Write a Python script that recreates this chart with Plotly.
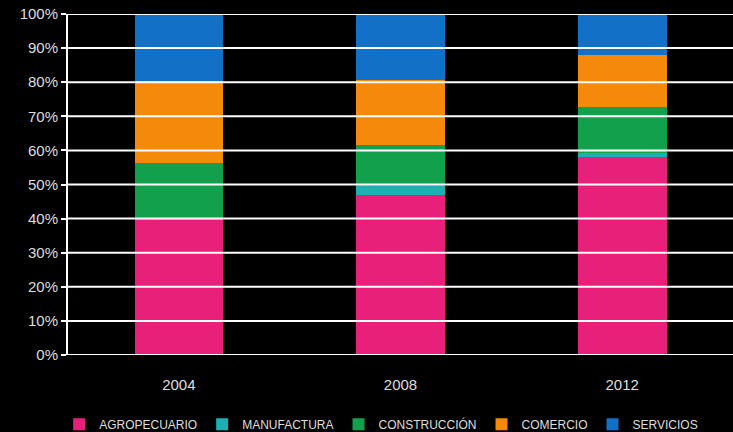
import plotly.graph_objects as go

years = ["2004", "2008", "2012"]
agropecuario = [39.5, 47.0, 58.0]
manufactura = [0.8, 2.7, 1.2]
construccion = [16.0, 12.0, 13.6]
comercio = [24.0, 19.0, 15.2]
servicios = [19.7, 19.3, 12.0]

series = [
    ("AGROPECUARIO", agropecuario, "#e8207a"),
    ("MANUFACTURA", manufactura, "#1cb0b4"),
    ("CONSTRUCCIÓN", construccion, "#12a04c"),
    ("COMERCIO", comercio, "#f5890c"),
    ("SERVICIOS", servicios, "#1270c6"),
]
y_ticks = [0, 10, 20, 30, 40, 50, 60, 70, 80, 90, 100]

fig = go.Figure()
for name, vals, col in series:
    fig.add_trace(go.Bar(x=years, y=vals, name=name, marker=dict(color=col, line=dict(width=0))))

for t in y_ticks:
    fig.add_shape(type="line", xref="paper", yref="y", x0=0, x1=1, y0=t, y1=t,
                  line=dict(color="white", width=2), layer="above")

fig.update_layout(
    width=733, height=432,
    barmode="stack", bargap=0.6,
    paper_bgcolor="black", plot_bgcolor="black",
    margin=dict(l=68, r=0, t=14, b=77),
    font=dict(family="Liberation Sans, Arial", color="#dedede", size=15),
    showlegend=True,
    legend=dict(orientation="h", traceorder="normal", yref="container", y=0.018,
                yanchor="middle", xref="container", x=0.52, xanchor="center",
                font=dict(size=12, color="#dedede"), itemwidth=30),
    xaxis=dict(showgrid=False, showline=False, ticks="", ticklabelstandoff=19,
               tickfont=dict(size=15)),
    yaxis=dict(range=[0, 100], tickvals=y_ticks, ticktext=[f"{t}%" for t in y_ticks],
               showgrid=False, showline=True, linecolor="white", linewidth=2,
               ticks="outside", ticklen=5, tickcolor="white", tickwidth=2,
               zeroline=False, tickfont=dict(size=15)),
)
fig.write_html("out.html", config={"displayModeBar": False},
               post_script="document.body.style.margin='0';document.body.style.background='black';")
